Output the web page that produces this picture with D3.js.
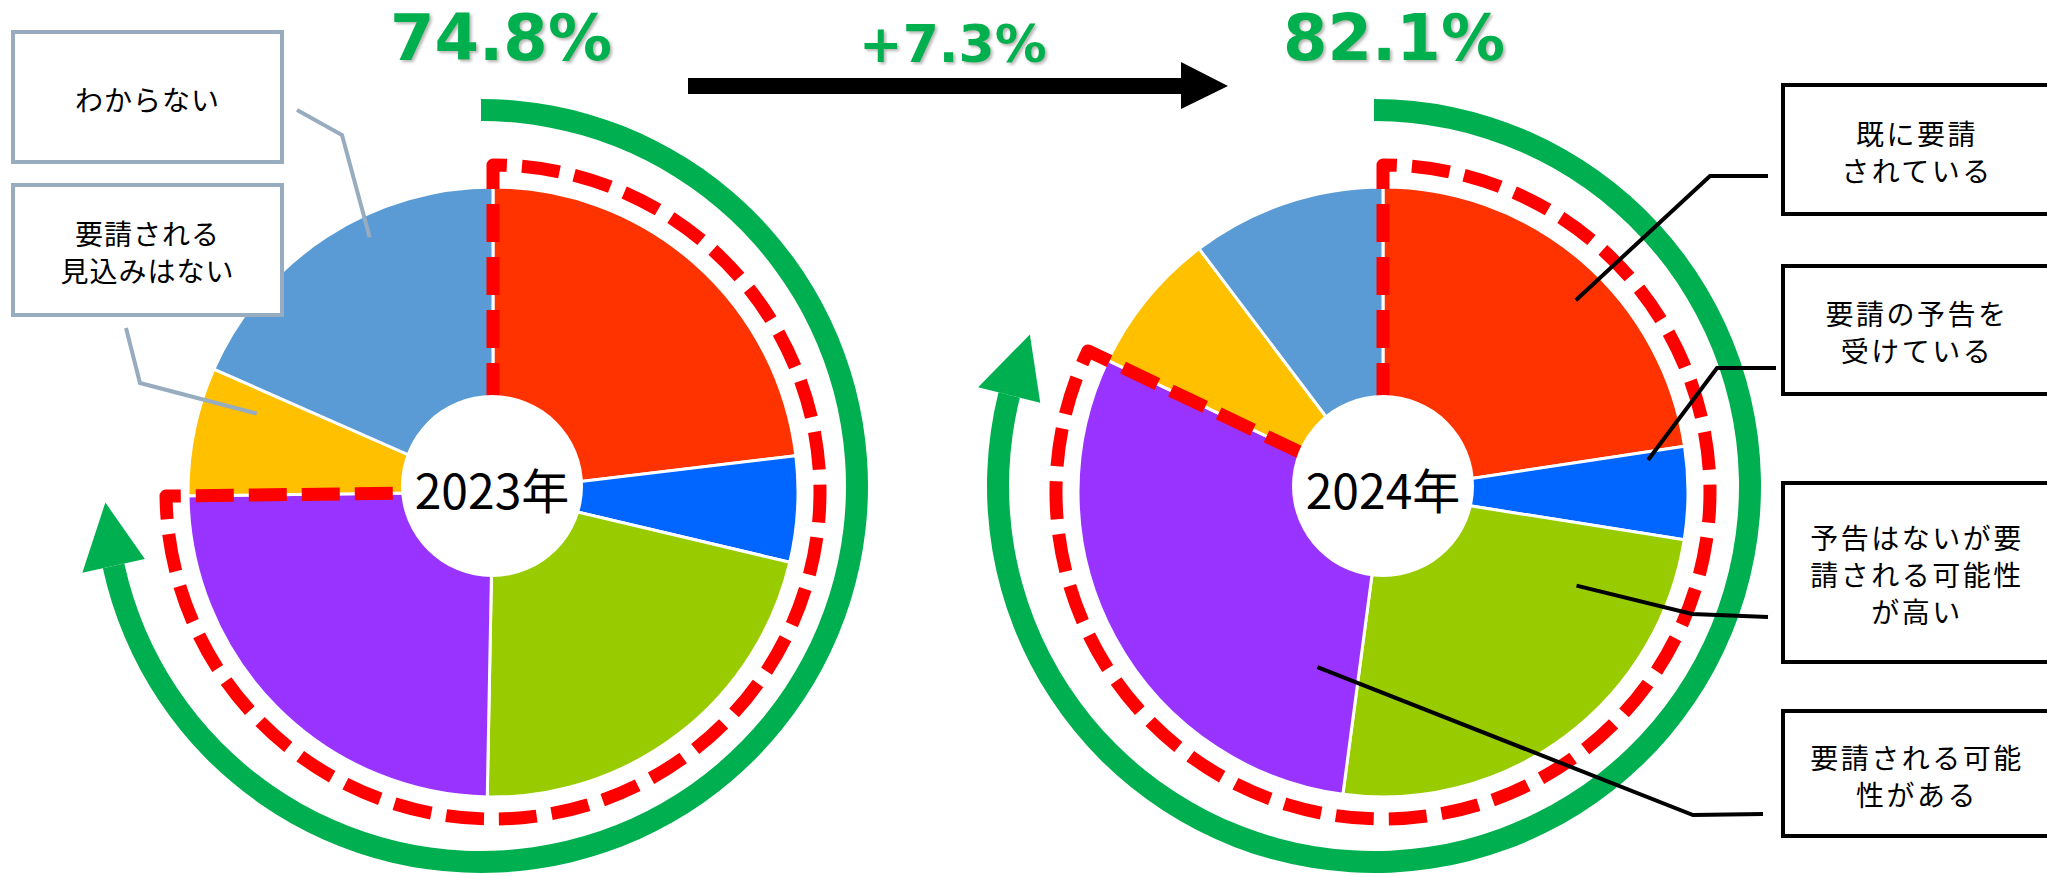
<!DOCTYPE html>
<html><head><meta charset="utf-8">
<script src="https://cdn.jsdelivr.net/npm/d3@7"></script>
<style>body{margin:0;background:#fff}svg{display:block}
.lbl{width:100%;height:100%;display:flex;flex-direction:column;align-items:center;justify-content:center;color:#000;font-family:'Noto Sans CJK JP','Noto Sans',sans-serif;line-height:37px;white-space:nowrap;box-sizing:border-box;padding-top:4px}
.lbl div{height:37px;line-height:37px}
</style>
</head><body>
<script>
// ---- data ----
const categories = ["既に要請されている", "要請の予告を受けている", "予告はないが要請される可能性が高い", "要請される可能性がある", "要請される見込みはない", "わからない"];
const colors = ["#FF3300", "#0066FF", "#99CC00", "#9933FF", "#FFC000", "#5B9BD5"];
const years = ["2023年", "2024年"];
const values2023 = [23.1, 5.6, 21.6, 24.5, 6.8, 18.4];
const values2024 = [22.6, 4.9, 24.6, 30.0, 7.6, 10.3];
const totalLabels = ["74.8%", "82.1%"];
const changeLabel = "+7.3%";
const includedCount = 4; // first four categories form the highlighted share
const leftLabels = [["わからない"], ["要請される", "見込みはない"]];
const rightLabels = [["既に要請", "されている"], ["要請の予告を", "受けている"], ["予告はないが要", "請される可能性", "が高い"], ["要請される可能", "性がある"]];

// ---- layout ----
const W = 2047, H = 877;
const R = 305, HOLE = 91, RED_R = 327, GREEN_R = 376, GREEN_W = 22;
const svg = d3.select("body").append("svg").attr("width", W).attr("height", H);
const defs = svg.append("defs");
const f = defs.append("filter").attr("id", "sh").attr("x", "-10%").attr("y", "-20%").attr("width", "130%").attr("height", "150%");
f.append("feDropShadow").attr("dx", 2).attr("dy", 2).attr("stdDeviation", 1.6).attr("flood-color", "#777").attr("flood-opacity", 0.55);

const angle = d3.scaleLinear().domain([0, 100]).range([0, 2 * Math.PI]);
const polar = (cx, cy, r, a) => [cx + r * Math.sin(a), cy - r * Math.cos(a)];

const pies = [
  {year: years[0], values: values2023, cx: 493, cy: 492, hx: 492, hy: 486, gx: 481, gy: 486, total: totalLabels[0], tx: 501},
  {year: years[1], values: values2024, cx: 1383, cy: 492, hx: 1383, hy: 486, gx: 1374, gy: 486, total: totalLabels[1], tx: 1394}
];

const pieGen = d3.pie().sort(null).value(d => d);
const arcGen = d3.arc().innerRadius(0).outerRadius(R);

pies.forEach(p => {
  const data = pieGen(p.values);
  p.data = data;
  const g = svg.append("g").attr("transform", `translate(${p.cx},${p.cy})`);
  g.selectAll("path.slice").data(data).join("path")
    .attr("class", "slice")
    .attr("d", arcGen)
    .attr("fill", (d, i) => colors[i])
    .attr("stroke", "#fff").attr("stroke-width", 3).attr("stroke-linejoin", "round");

  // highlighted share outline (red dashed)
  const totalShare = d3.sum(p.values.slice(0, includedCount));
  const th = angle(totalShare);
  const s0 = polar(0, 0, HOLE, 0), s1 = polar(0, 0, RED_R, 0);
  const e1 = polar(0, 0, RED_R, th), e0 = polar(0, 0, HOLE, th);
  const dpath = `M${s0}L${s1}A${RED_R},${RED_R} 0 ${th > Math.PI ? 1 : 0} 1 ${e1}L${e0}`;
  g.append("path").attr("d", dpath).attr("fill", "none")
    .attr("stroke", "#FF0000").attr("stroke-width", 13)
    .attr("stroke-dasharray", "38 15").attr("stroke-linejoin", "round");

  // hole
  svg.append("circle").attr("cx", p.hx).attr("cy", p.hy).attr("r", HOLE).attr("fill", "#fff");
  svg.append("text").attr("x", p.hx).attr("y", p.hy + 2)
    .attr("text-anchor", "middle").attr("dominant-baseline", "central")
    .attr("font-family", "'Noto Sans CJK JP', 'Noto Sans', sans-serif").attr("font-size", 48)
    .attr("fill", "#000").text(p.year);

  // green circular arrow
  const tipA = th - 1.8 * Math.PI / 180;
  const headA = 64 / GREEN_R;
  const baseA = tipA - headA;
  const gg = svg.append("g").attr("transform", `translate(${p.gx},${p.gy})`);
  gg.append("path").attr("d", d3.arc().innerRadius(GREEN_R - GREEN_W / 2).outerRadius(GREEN_R + GREEN_W / 2)
      .startAngle(0).endAngle(baseA)()).attr("fill", "#00B050");
  const b1 = polar(0, 0, GREEN_R - 32, baseA), b2 = polar(0, 0, GREEN_R + 32, baseA), tp = polar(0, 0, GREEN_R, tipA);
  gg.append("path").attr("d", `M${b1}L${tp}L${b2}Z`).attr("fill", "#00B050");

  // total label
  svg.append("text").attr("x", p.tx).attr("y", 60).attr("text-anchor", "middle")
    .attr("font-family", "'DejaVu Sans', Verdana, sans-serif").attr("font-weight", "bold")
    .attr("font-size", 64).attr("fill", "#00B050").attr("filter", "url(#sh)").text(p.total);
});

// change label + arrow
svg.append("text").attr("x", 953).attr("y", 62).attr("text-anchor", "middle")
  .attr("font-family", "'DejaVu Sans', Verdana, sans-serif").attr("font-weight", "bold")
  .attr("font-size", 52).attr("fill", "#00B050").attr("filter", "url(#sh)").text(changeLabel);
svg.append("path").attr("d", "M688,78H1181V62L1228,86L1181,109V94H688Z").attr("fill", "#000");

// ---- callouts ----
function anchorPoint(p, idx, frac, r) {
  const d = p.data[idx];
  const a = d.startAngle + frac * (d.endAngle - d.startAngle);
  return polar(p.cx, p.cy, r, a);
}
const callouts = [
  {pie: 0, cat: 5, lines: leftLabels[0], box: [13, 32, 269, 130], color: "#97ACBF", elbow: [[297, 110], [342, 135]], frac: 0.61, r: 283, fs: 28, ls: 1},
  {pie: 0, cat: 4, lines: leftLabels[1], box: [13, 185, 269, 130], color: "#97ACBF", elbow: [[126, 328], [140, 383]], frac: 0.78, r: 249, fs: 28, ls: 1},
  {pie: 1, cat: 0, lines: rightLabels[0], box: [1783, 85, 300, 129], color: "#000", elbow: [[1768, 176], [1710, 176]], frac: 0.555, r: 272, fs: 28, ls: 2.5},
  {pie: 1, cat: 1, lines: rightLabels[1], box: [1783, 266, 300, 128], color: "#000", elbow: [[1776, 368], [1717, 368]], frac: 0.1, r: 267, fs: 28, ls: 2.5},
  {pie: 1, cat: 2, lines: rightLabels[2], box: [1783, 483, 300, 179], color: "#000", elbow: [[1768, 617], [1692, 614]], frac: 0.19, r: 215, fs: 28, ls: 2.5},
  {pie: 1, cat: 3, lines: rightLabels[3], box: [1783, 711, 300, 125], color: "#000", elbow: [[1763, 814], [1693, 815]], frac: 0.12, r: 187, fs: 28, ls: 2.5}
];
callouts.forEach(c => {
  const p = pies[c.pie];
  const a = anchorPoint(p, c.cat, c.frac, c.r);
  const pts = c.elbow.concat([a]);
  svg.append("path").attr("d", d3.line()(pts)).attr("fill", "none")
    .attr("stroke", c.color).attr("stroke-width", 4);
  const [x, y, w, h] = c.box;
  svg.append("rect").attr("x", x).attr("y", y).attr("width", w).attr("height", h)
    .attr("fill", "#fff").attr("stroke", c.color).attr("stroke-width", 4);
  const tw = c.pie === 0 ? w : 2 * (1917 - x);
  const fo = svg.append("foreignObject").attr("x", x).attr("y", y).attr("width", tw).attr("height", h);
  const div = fo.append("xhtml:div").attr("class", "lbl")
    .style("font-size", c.fs + "px").style("letter-spacing", c.ls + "px");
  c.lines.forEach(t => div.append("xhtml:div").text(t));
});
</script>
</body></html>
